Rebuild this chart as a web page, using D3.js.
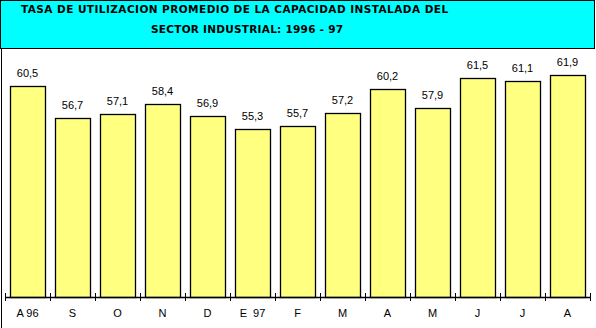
<!DOCTYPE html>
<html>
<head>
<meta charset="utf-8">
<script src="https://cdn.jsdelivr.net/npm/d3@7"></script>
<style>
  body { margin: 0; background: #fff; }
  svg { display: block; }
</style>
</head>
<body>
<svg width="596" height="328"></svg>
<script>
// months of the 1996-97 period
const months = ["A 96", "S", "O", "N", "D", "E  97", "F", "M", "A", "M", "J", "J", "A"];
// utilization rate (%)
const rates = [60.5, 56.7, 57.1, 58.4, 56.9, 55.3, 55.7, 57.2, 60.2, 57.9, 61.5, 61.1, 61.9];
const titleLines = [
  "TASA DE UTILIZACION PROMEDIO DE LA CAPACIDAD INSTALADA DEL",
  "SECTOR INDUSTRIAL: 1996 - 97"
];

const data = months.map((m, i) => ({key: i, label: m, value: rates[i]}));

const svg = d3.select("svg");

// title box
svg.append("rect")
   .attr("x", 0.5).attr("y", 0.5)
   .attr("width", 594).attr("height", 48)
   .attr("fill", "#00ffff")
   .attr("stroke", "#000")
   .attr("stroke-width", 1);

svg.append("line")
   .attr("x1", 1.5).attr("x2", 1.5)
   .attr("y1", 48).attr("y2", 328)
   .attr("stroke", "#000");

const titleFont = "'DejaVu Sans', Verdana, sans-serif";
svg.append("text")
   .attr("x", 21).attr("y", 13)
   .attr("font-family", titleFont)
   .attr("font-weight", "bold")
   .attr("font-size", 10.5)
   .attr("letter-spacing", 0.9)
   .attr("textLength", 428)
   .text(titleLines[0]);
svg.append("text")
   .attr("x", 151).attr("y", 33)
   .attr("font-family", titleFont)
   .attr("font-weight", "bold")
   .attr("font-size", 10.5)
   .attr("textLength", 192)
   .text(titleLines[1]);

const x = d3.scaleBand()
            .domain(data.map(d => d.key))
            .range([5, 590])
            .paddingInner(0.22)
            .paddingOuter(0.11);

const y = d3.scaleLinear()
            .domain([35, 65])
            .range([297, 49]);

svg.append("g")
   .selectAll("rect")
   .data(data)
   .join("rect")
   .attr("x", d => Math.round(x(d.key)) + 0.5)
   .attr("y", d => Math.round(y(d.value)) + 0.5)
   .attr("width", Math.round(x.bandwidth()))
   .attr("height", d => 297 - Math.round(y(d.value)))
   .attr("fill", "#ffff80")
   .attr("stroke", "#000")
   .attr("stroke-width", 1.3);

svg.append("g")
   .selectAll("text")
   .data(data)
   .join("text")
   .attr("x", d => x(d.key) + x.bandwidth() / 2)
   .attr("y", d => y(d.value) - 9)
   .attr("text-anchor", "middle")
   .attr("font-family", "Arial, 'Liberation Sans', sans-serif")
   .attr("font-size", 11)
   .text(d => d.value.toFixed(1).replace(".", ","));

// category axis: ticks sit on the band boundaries
const step = x.step();
const bounds = d3.range(months.length + 1).map(i => 5 + i * step);

const axis = svg.append("g");
axis.append("line")
    .attr("x1", 5).attr("x2", 591)
    .attr("y1", 297.5).attr("y2", 297.5)
    .attr("stroke", "#000").attr("stroke-width", 1.3);
axis.selectAll("line.tick")
    .data(bounds)
    .join("line")
    .attr("class", "tick")
    .attr("x1", d => Math.round(d) + 0.5).attr("x2", d => Math.round(d) + 0.5)
    .attr("y1", 293).attr("y2", 301)
    .attr("stroke", "#000");
axis.selectAll("text")
    .data(data)
    .join("text")
    .attr("x", d => x(d.key) + x.bandwidth() / 2)
    .attr("y", 317)
    .attr("text-anchor", "middle")
    .attr("font-family", "Arial, 'Liberation Sans', sans-serif")
    .attr("font-size", 11)
    .attr("xml:space", "preserve")
    .style("white-space", "pre")
    .text(d => d.label);
</script>
</body>
</html>
